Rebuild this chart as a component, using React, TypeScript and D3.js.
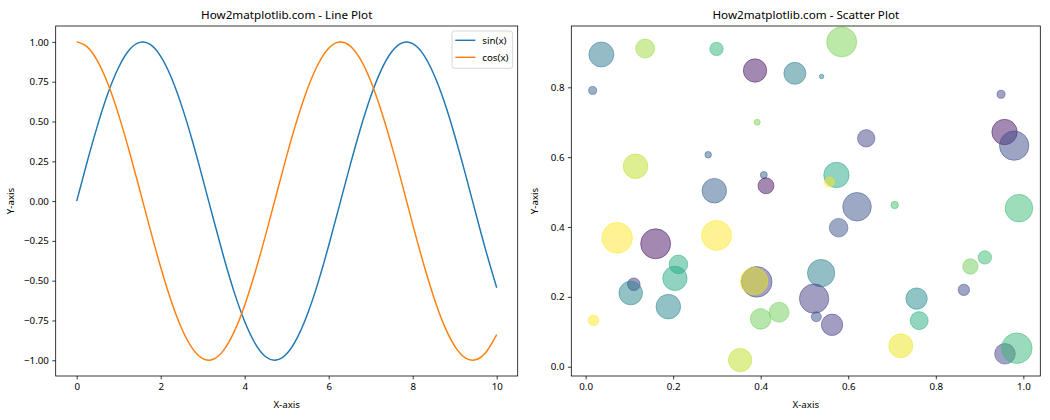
import { useEffect, useRef } from "react";
import * as d3 from "d3";

// Line plot data
const lineX = [
  0, 0.25, 0.5, 0.75, 1, 1.25, 1.5, 1.75, 2, 2.25, 2.5, 2.75, 3, 3.25, 3.5, 3.75, 4, 4.25, 4.5, 4.75, 5,
  5.25, 5.5, 5.75, 6, 6.25, 6.5, 6.75, 7, 7.25, 7.5, 7.75, 8, 8.25, 8.5, 8.75, 9, 9.25, 9.5, 9.75, 10,
];
const sinY = [
  0.0, 0.247, 0.479, 0.682, 0.841, 0.949, 0.997, 0.984, 0.909, 0.778, 0.598, 0.382, 0.141, -0.108, -0.351,
  -0.572, -0.757, -0.895, -0.978, -0.999, -0.959, -0.859, -0.706, -0.509, -0.279, -0.033, 0.215, 0.45,
  0.657, 0.823, 0.938, 0.994, 0.989, 0.923, 0.798, 0.625, 0.412, 0.174, -0.075, -0.319, -0.544,
];
const cosY = [
  1.0, 0.969, 0.878, 0.732, 0.54, 0.315, 0.071, -0.178, -0.416, -0.628, -0.801, -0.924, -0.99, -0.994,
  -0.936, -0.82, -0.654, -0.446, -0.211, 0.037, 0.284, 0.512, 0.709, 0.861, 0.96, 0.999, 0.977, 0.893,
  0.754, 0.567, 0.347, 0.105, -0.146, -0.386, -0.602, -0.781, -0.911, -0.985, -0.997, -0.948, -0.839,
];
const lineSeries = ["sin(x)", "cos(x)"];
const lineColors = ["#1f77b4", "#ff7f0e"];

// Scatter plot data
const scatterX = [
  0.036, 0.136, 0.299, 0.387, 0.478, 0.539, 0.585, 0.016, 0.949, 0.392, 0.641, 0.957, 0.979, 0.114, 0.28,
  0.407, 0.412, 0.294, 0.573, 0.557, 0.62, 0.706, 0.99, 0.578, 0.072, 0.16, 0.299, 0.212, 0.204, 0.11,
  0.103, 0.189, 0.018, 0.391, 0.385, 0.4, 0.442, 0.353, 0.538, 0.522, 0.527, 0.563, 0.756, 0.762, 0.72,
  0.879, 0.912, 0.864, 0.958, 0.985,
];
const scatterY = [
  0.894, 0.911, 0.91, 0.848, 0.84, 0.831, 0.93, 0.791, 0.78, 0.7, 0.654, 0.672, 0.633, 0.574, 0.607,
  0.549, 0.518, 0.504, 0.549, 0.529, 0.458, 0.463, 0.454, 0.398, 0.369, 0.352, 0.376, 0.293, 0.253, 0.236,
  0.211, 0.172, 0.133, 0.243, 0.245, 0.137, 0.156, 0.019, 0.268, 0.195, 0.143, 0.12, 0.195, 0.132, 0.06,
  0.287, 0.313, 0.22, 0.037, 0.053,
];
const scatterSize = [
  660, 382, 190, 579, 512, 22, 952, 68, 68, 38, 320, 682, 914, 640, 46, 52, 270, 640, 682, 106, 865, 58,
  806, 366, 990, 952, 952, 366, 630, 168, 590, 640, 119, 990, 794, 450, 423, 579, 794, 914, 106, 484, 484,
  343, 610, 250, 190, 137, 450, 990,
];
const scatterColor = [
  0.4, 0.85, 0.65, 0.05, 0.42, 0.45, 0.8, 0.3, 0.2, 0.8, 0.2, 0.05, 0.22, 0.9, 0.3, 0.3, 0.05, 0.3, 0.6,
  1.0, 0.25, 0.7, 0.68, 0.25, 1.0, 0.05, 1.0, 0.62, 0.6, 0.15, 0.45, 0.45, 1.0, 0.2, 0.97, 0.78, 0.78,
  0.9, 0.42, 0.18, 0.25, 0.18, 0.47, 0.62, 0.97, 0.78, 0.68, 0.22, 0.2, 0.67,
];

const lineXTicks = [0, 2, 4, 6, 8, 10];
const lineYTicks = [-1, -0.75, -0.5, -0.25, 0, 0.25, 0.5, 0.75, 1];
const scatterXTicks = [0, 0.2, 0.4, 0.6, 0.8, 1.0];
const scatterYTicks = [0, 0.2, 0.4, 0.6, 0.8];

const W = 1050;
const H = 420;
const FONT = "'Noto Sans', 'DejaVu Sans', sans-serif";
const PX = 70 / 72; // points -> pixels at 70 dpi

const minus = (s: string) => s.replace("-", "\u2212");

// matplotlib-style 5% autoscale margin
function padded(values: number[]): [number, number] {
  const [lo, hi] = d3.extent(values) as [number, number];
  const pad = (hi - lo) * 0.05;
  return [lo - pad, hi + pad];
}

function drawAxes(
  g: d3.Selection<SVGGElement, unknown, null, undefined>,
  w: number,
  h: number,
  x: d3.ScaleLinear<number, number>,
  y: d3.ScaleLinear<number, number>,
  xTicks: number[],
  yTicks: number[],
  xFmt: (d: number) => string,
  yFmt: (d: number) => string,
  title: string
) {
  const tick = 3.5 * PX;

  const xa = g
    .append("g")
    .attr("transform", `translate(0,${h})`)
    .call(
      d3
        .axisBottom(x)
        .tickValues(xTicks)
        .tickSize(tick)
        .tickPadding(tick)
        .tickFormat((d) => xFmt(d as number))
    );
  const ya = g.append("g").call(
    d3
      .axisLeft(y)
      .tickValues(yTicks)
      .tickSize(tick)
      .tickPadding(tick)
      .tickFormat((d) => yFmt(d as number))
  );
  [xa, ya].forEach((a) => {
    a.select(".domain").remove();
    a.selectAll("line").attr("stroke", "#000").attr("stroke-width", 0.8 * PX);
    a.selectAll("text")
      .attr("fill", "#000")
      .attr("font-family", FONT)
      .attr("font-size", 10 * PX);
  });

  // frame
  g.append("rect")
    .attr("width", w)
    .attr("height", h)
    .attr("fill", "none")
    .attr("stroke", "#000")
    .attr("stroke-width", 0.8 * PX);

  g.append("text")
    .attr("x", w / 2)
    .attr("y", -6 * PX - 1)
    .attr("text-anchor", "middle")
    .attr("font-family", FONT)
    .attr("font-size", 12 * PX)
    .attr("fill", "#000")
    .text(title);

  g.append("text")
    .attr("x", w / 2)
    .attr("y", h + 31.5)
    .attr("text-anchor", "middle")
    .attr("font-family", FONT)
    .attr("font-size", 10 * PX)
    .text("X-axis");
}

function yLabel(
  g: d3.Selection<SVGGElement, unknown, null, undefined>,
  xPos: number,
  h: number
) {
  g.append("text")
    .attr("transform", `translate(${xPos},${h / 2}) rotate(-90)`)
    .attr("text-anchor", "middle")
    .attr("font-family", FONT)
    .attr("font-size", 10 * PX)
    .text("Y-axis");
}

export default function App() {
  const svgRef = useRef<SVGSVGElement>(null);

  useEffect(() => {
    if (!svgRef.current) return;
    const svg = d3.select(svgRef.current);
    svg.selectAll("*").remove();

    const top = 26;
    const h = 350;

    // ---------- Line plot ----------
    const L = { left: 55.7, width: 462 };
    const g1 = svg.append("g").attr("transform", `translate(${L.left},${top})`);
    const x1 = d3.scaleLinear().domain(padded(lineX)).range([0, L.width]);
    const y1 = d3.scaleLinear().domain(padded([...sinY, ...cosY])).range([h, 0]);

    const series = [sinY, cosY];
    const line = d3
      .line<number>()
      .x((_, i) => x1(lineX[i]))
      .y((d) => y1(d))
      .curve(d3.curveNatural);

    g1.selectAll(".series")
      .data(series)
      .join("path")
      .attr("class", "series")
      .attr("d", (d) => line(d))
      .attr("fill", "none")
      .attr("stroke", (_, i) => lineColors[i])
      .attr("stroke-width", 1.5 * PX);

    drawAxes(
      g1,
      L.width,
      h,
      x1,
      y1,
      lineXTicks,
      lineYTicks,
      (d) => d3.format("d")(d),
      (d) => minus(d3.format(".2f")(d)),
      "How2matplotlib.com - Line Plot"
    );
    yLabel(g1, -41.5, h);

    // Legend
    const lg = g1.append("g").attr("transform", `translate(${L.width - 65.7},5)`);
    lg.append("rect")
      .attr("width", 60.7)
      .attr("height", 37.3)
      .attr("rx", 2.5)
      .attr("fill", "#fff")
      .attr("fill-opacity", 0.8)
      .attr("stroke", "#ccc")
      .attr("stroke-width", 0.8 * PX);
    lineSeries.forEach((name, i) => {
      const yy = 9.3 + i * 17;
      lg.append("line")
        .attr("x1", 3.3)
        .attr("x2", 23.3)
        .attr("y1", yy)
        .attr("y2", yy)
        .attr("stroke", lineColors[i])
        .attr("stroke-width", 1.5 * PX);
      lg.append("text")
        .attr("x", 30.3)
        .attr("y", yy)
        .attr("dy", "0.35em")
        .attr("font-family", FONT)
        .attr("font-size", 10 * PX)
        .text(name);
    });

    // ---------- Scatter plot ----------
    const R = { left: 571.3, width: 469 };
    const g2 = svg.append("g").attr("transform", `translate(${R.left},${top})`);
    const x2 = d3.scaleLinear().domain(padded(scatterX)).range([0, R.width]);
    const y2 = d3.scaleLinear().domain(padded(scatterY)).range([h, 0]);
    const r = d3
      .scaleSqrt()
      .domain([0, 1000])
      .range([0, (Math.sqrt(1000) / 2) * PX]);

    svg
      .append("defs")
      .append("clipPath")
      .attr("id", "scatterClip")
      .append("rect")
      .attr("width", R.width)
      .attr("height", h);

    g2.append("g")
      .attr("clip-path", "url(#scatterClip)")
      .selectAll("circle")
      .data(scatterX)
      .join("circle")
      .attr("cx", (d) => x2(d))
      .attr("cy", (_, i) => y2(scatterY[i]))
      .attr("r", (_, i) => r(scatterSize[i]))
      .attr("fill", (_, i) => d3.interpolateViridis(scatterColor[i]))
      .attr("fill-opacity", 0.5)
      .attr("stroke", (_, i) => d3.interpolateViridis(scatterColor[i]))
      .attr("stroke-opacity", 0.5)
      .attr("stroke-width", 1 * PX);

    drawAxes(
      g2,
      R.width,
      h,
      x2,
      y2,
      scatterXTicks,
      scatterYTicks,
      (d) => d3.format(".1f")(d),
      (d) => d3.format(".1f")(d),
      "How2matplotlib.com - Scatter Plot"
    );
    yLabel(g2, -33, h);
  }, []);

  return (
    <svg
      ref={svgRef}
      width={W}
      height={H}
      style={{ position: "absolute", left: 0, top: 0, background: "#fff" }}
    />
  );
}
